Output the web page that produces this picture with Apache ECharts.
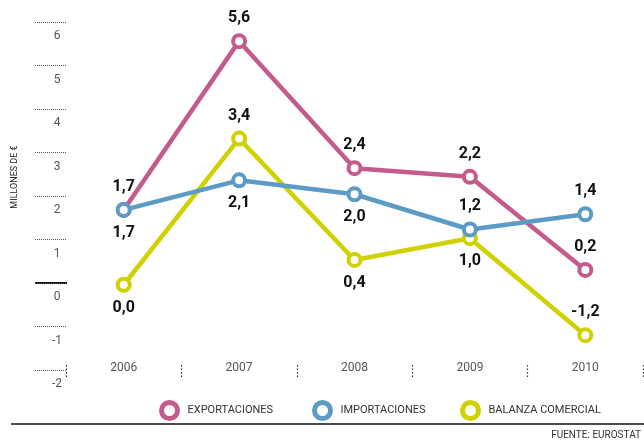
<!DOCTYPE html>
<html>
<head>
<meta charset="utf-8">
<script src="https://cdn.jsdelivr.net/npm/echarts@6/dist/echarts.min.js"></script>
<style>html,body{margin:0;padding:0;background:#fff}#c{width:644px;height:440px}</style>
</head>
<body>
<div id="c"></div>
<script>
var categories = ['2006', '2007', '2008', '2009', '2010'];
var exportValues = [1.68, 5.56, 2.64, 2.44, 0.30];
var exportLabels = ['1,7', '5,6', '2,4', '2,2', '0,2'];
var importValues = [1.68, 2.36, 2.04, 1.23, 1.58];
var importLabels = ['1,7', '2,1', '2,0', '1,2', '1,4'];
var balanzaValues = [-0.04, 3.32, 0.53, 1.03, -1.20];
var balanzaLabels = ['0,0', '3,4', '0,4', '1,0', '-1,2'];
var yTicks = { min: -2, max: 6, interval: 1 };

var C_EXP = '#c45b8d', C_IMP = '#5b9bc6', C_BAL = '#cfd200';
var FONT = 'Roboto';

function mkData(vals, positions) {
  return vals.map(function (v, i) {
    return { value: v, label: { position: positions[i] } };
  });
}
function mkSeries(name, vals, labels, positions, color, z) {
  return {
    name: name, type: 'line', z: z,
    data: mkData(vals, positions),
    symbol: 'circle', symbolSize: 12,
    lineStyle: { color: color, width: 4.5 },
    itemStyle: { color: '#fff', borderColor: color, borderWidth: 4 },
    label: {
      show: true, distance: 7, fontFamily: FONT, fontWeight: 'bold', fontSize: 16, color: '#111',
      formatter: function (p) { return labels[p.dataIndex]; }
    },
    emphasis: { disabled: true },
    animation: false
  };
}
function mkLegend(name, color, left) {
  return {
    left: left, top: 395, itemWidth: 16, itemHeight: 16,
    selectedMode: false,
    icon: 'circle',
    itemStyle: { color: '#fff', borderColor: color, borderWidth: 5 },
    data: [{ name: name, icon: 'circle',
      itemStyle: { color: '#fff', borderColor: color, borderWidth: 5 } }],
    textStyle: { fontFamily: FONT, fontSize: 11, color: '#333', padding: [0, 0, 0, 5] }
  };
}

var chart = echarts.init(document.getElementById('c'));
chart.setOption({
  animation: false,
  grid: { left: 66, right: 1, top: 22, bottom: 70 },
  xAxis: {
    type: 'category', data: categories, boundaryGap: true, offset: 7,
    axisLine: { show: false, onZero: false },
    axisTick: { show: true, inside: true, length: 14, lineStyle: { type: [1.5, 2], color: '#333', width: 1.2 } },
    axisLabel: { margin: -9, verticalAlign: 'middle', fontFamily: FONT, fontSize: 12, color: '#555' },
    splitLine: { show: false }
  },
  yAxis: {
    type: 'value', min: yTicks.min, max: yTicks.max, interval: yTicks.interval,
    axisLine: { show: false },
    axisTick: { show: true, length: 32, lineStyle: { type: 'dotted', color: '#555', width: 1 } },
    axisLabel: { margin: 9, align: 'center', verticalAlign: 'top', padding: [8, 0, 0, 0],
      fontFamily: FONT, fontSize: 12, color: '#555' },
    splitLine: { show: false }
  },
  legend: [
    mkLegend('EXPORTACIONES', C_EXP, 154),
    mkLegend('IMPORTACIONES', C_IMP, 307),
    mkLegend('BALANZA COMERCIAL', C_BAL, 455)
  ],
  series: [
    mkSeries('EXPORTACIONES', exportValues, exportLabels, ['top', 'top', 'top', 'top', 'top'], C_EXP, 2),
    mkSeries('BALANZA COMERCIAL', balanzaValues, balanzaLabels, ['bottom', 'top', 'bottom', 'bottom', 'top'], C_BAL, 3),
    mkSeries('IMPORTACIONES', importValues, importLabels, ['bottom', 'bottom', 'bottom', 'top', 'top'], C_IMP, 4)
  ]
});

var zeroY = chart.convertToPixel({ yAxisIndex: 0 }, 0);
chart.setOption({
  graphic: [
    { type: 'line', shape: { x1: 35, y1: zeroY, x2: 67, y2: zeroY }, style: { stroke: '#111', lineWidth: 2 } },
    { type: 'text', x: 15, y: 177, rotation: Math.PI / 2,
      style: { text: 'MILLONES DE €', fontFamily: FONT, fontSize: 9, fill: '#222', align: 'center', verticalAlign: 'middle' } },
    { type: 'line', shape: { x1: 11, y1: 424, x2: 644, y2: 424 }, style: { stroke: '#111', lineWidth: 1.5 } },
    { type: 'text', x: 641, y: 435,
      style: { text: 'FUENTE: EUROSTAT', fontFamily: FONT, fontSize: 10, fill: '#333', align: 'right', verticalAlign: 'middle' } }
  ]
});
</script>
</body>
</html>
